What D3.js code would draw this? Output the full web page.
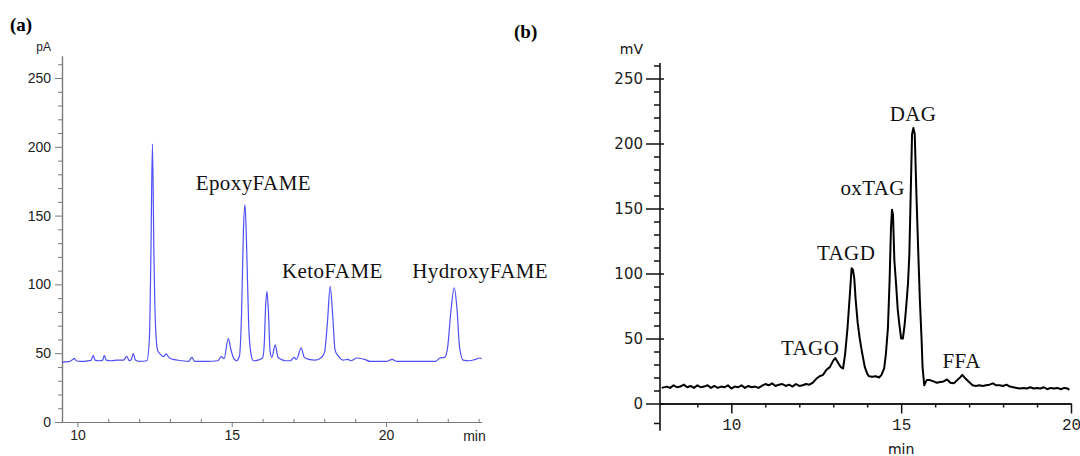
<!DOCTYPE html>
<html>
<head>
<meta charset="utf-8">
<script src="https://cdn.jsdelivr.net/npm/d3@7"></script>
<style>
  html, body { margin: 0; padding: 0; background: #fff; }
  svg { display: block; }
</style>
</head>
<body>
<svg id="chart" width="1080" height="456"></svg>
<script>
// ---------- Panel (a): GC-FID chromatogram ----------
const timeA = [9.50,9.75,9.85,9.90,9.96,10.1,10.3,10.45,10.51,10.57,10.7,10.82,10.87,10.93,11.1,11.3,11.5,11.6,11.68,11.75,11.81,11.88,12.0,12.25,12.33,12.38,12.43,12.48,12.53,12.6,12.7,12.78,12.88,12.96,13.1,13.4,13.6,13.71,13.8,14.2,14.55,14.66,14.75,14.89,14.97,15.05,15.15,15.25,15.32,15.38,15.43,15.48,15.55,15.62,15.7,15.85,16.0,16.05,16.1,16.14,16.19,16.24,16.3,16.41,16.5,16.6,16.75,16.9,17.02,17.1,17.25,17.35,17.5,17.7,17.85,18.0,18.1,18.19,18.27,18.35,18.45,18.6,18.77,18.85,19.06,19.3,19.5,20.0,20.2,20.35,21.0,21.6,21.75,21.9,22.0,22.1,22.21,22.3,22.38,22.5,22.7,22.9,23.04,23.1];
const signalA = [43.5,44,45.5,46.3,44.5,44,44.3,45,48.5,45,44.5,45,48.5,45,44.5,45,45,47.8,44.5,45.5,49.8,45,44,44.5,60,120,202,120,70,52,49,47.5,49.5,47,45.5,44.5,44,47,44,44,44.5,47.5,46,60.8,53,47,44.5,48,80,140,158,130,70,50,44.5,45,46.5,55,85,95,80,52,47,56,47,45.5,44.5,44.5,47,45.5,53.8,47,45.5,45,46,50,72,98.5,78,52,48,45,45.5,44.5,46.5,45.5,44,44,45.5,44,44,44,46.5,47,55,80,97.5,82,55,45,44.5,45.5,46.5,46];
const yTicksMajorA = [0,50,100,150,200,250];
const yTicksMinorA = [10,20,30,40,60,70,80,90,110,120,130,140,160,170,180,190,210,220,230,240,260];
const xTicksMajorA = [10,15,20];
const xTicksMinorA = [11,12,13,14,16,17,18,19,21,22,23];
const labelsA = ["EpoxyFAME","KetoFAME","HydroxyFAME"];
const labelTimeA = [15.70,18.26,23.05];
const labelValA = [168.6,104.7,104.7];

// ---------- Panel (b): HPLC-ELSD chromatogram ----------
const timeB = [7.95,8.1,8.2,8.3,8.4,8.5,8.6,8.7,8.8,8.9,9.0,9.1,9.2,9.3,9.4,9.5,9.6,9.7,9.8,9.9,10.0,10.1,10.2,10.3,10.4,10.5,10.6,10.7,10.8,10.9,11.0,11.1,11.2,11.3,11.4,11.5,11.6,11.7,11.8,11.9,12.0,12.1,12.2,12.3,12.4,12.5,12.6,12.7,12.8,12.9,13.0,13.06,13.15,13.22,13.29,13.35,13.42,13.49,13.54,13.58,13.62,13.66,13.72,13.78,13.85,13.93,14.0,14.05,14.15,14.25,14.35,14.42,14.5,14.55,14.61,14.66,14.7,14.73,14.76,14.8,14.85,14.9,14.95,15.0,15.05,15.1,15.15,15.2,15.24,15.28,15.32,15.36,15.4,15.45,15.5,15.55,15.6,15.63,15.68,15.75,15.85,15.95,16.05,16.15,16.25,16.35,16.45,16.55,16.65,16.75,16.8,16.9,17.0,17.1,17.2,17.3,17.4,17.5,17.6,17.7,17.8,17.9,18.0,18.1,18.2,18.3,18.4,18.5,18.6,18.7,18.8,18.9,19.0,19.1,19.2,19.3,19.4,19.5,19.6,19.7,19.8,19.9,19.95];
const signalB = [12,13,12,14,12.5,13,14.5,12.5,13.5,12,14,12.5,13,14,12,13.5,12,13,12.5,14,11.5,13,12.5,14,12,13.5,12.5,13,12,13.5,15,14,15.5,13.5,14.5,15,13.5,14.5,13,15,13.5,14,15,14.5,16,19,21,22,26,28,33,35,31,28,27,38,58,84,104,103,96,80,62,50,39,28,23,21,20.5,21,20,22,27,38,58,95,135,149,145,110,92,72,60,50,50,60,75,92,114,160,207,212,207,160,119,80,50,28,14,18,18,17,16,16.5,17,18.5,16,15.5,18,20.5,22,19,16.5,14,13.5,14,13.5,14,14.5,15.5,14,14,13.5,14.5,13,12.5,12,11.5,12,11.5,12.5,11.5,12,11.5,12.5,11,12,11.5,12,11,12,11.5,10.5];
const yTicksMajorB = [0,50,100,150,200,250];
const yTicksMinorB = [-15,10,20,30,40,60,70,80,90,110,120,130,140,160,170,180,190,210,220,230,240,260];
const xTicksMajorB = [10,15,20];
const xTicksMinorB = [9,11,12,13,14,16,17,18,19];
const labelsB = ["TAGO","TAGD","oxTAG","DAG","FFA"];
const labelTimeB = [12.32,13.38,14.16,15.35,16.78];
const labelValB = [37.3,110.4,160.4,217.3,27.3];

const svg = d3.select("#chart");

// ===== Panel (a) =====
const xA = d3.scaleLinear().domain([9.5, 23.1]).range([62, 481.7]);
const yA = d3.scaleLinear().domain([0, 266]).range([422, 56]);
const gA = svg.append("g");
const axisColA = "#7a7a7a";
const tickFont = "'Liberation Sans', Arial, sans-serif";

// y axis (a)
const yAxMinA = gA.append("g").attr("transform", `translate(${xA(9.5)},0)`)
  .call(d3.axisLeft(yA).tickValues(yTicksMinorA).tickSize(4).tickFormat("").tickSizeOuter(0));
const yAxMajA = gA.append("g").attr("transform", `translate(${xA(9.5)},0)`)
  .call(d3.axisLeft(yA).tickValues(yTicksMajorA).tickSize(7).tickPadding(4).tickSizeOuter(0));
[yAxMinA, yAxMajA].forEach(g => {
  g.select(".domain").attr("stroke", axisColA).attr("stroke-width", 1.2);
  g.selectAll(".tick line").attr("stroke", axisColA);
  g.selectAll(".tick text").attr("fill", "#222").style("font-family", tickFont).style("font-size", "14px");
});

// x axis (a)
const xAxMinA = gA.append("g").attr("transform", `translate(0,${yA(0)})`)
  .call(d3.axisBottom(xA).tickValues(xTicksMinorA).tickSize(-3).tickFormat("").tickSizeOuter(0));
const xAxMajA = gA.append("g").attr("transform", `translate(0,${yA(0)})`)
  .call(d3.axisBottom(xA).tickValues(xTicksMajorA).tickSize(5).tickPadding(3).tickSizeOuter(0));
[xAxMinA, xAxMajA].forEach(g => {
  g.select(".domain").attr("stroke", axisColA).attr("stroke-width", 1.2);
  g.selectAll(".tick line").attr("stroke", axisColA);
  g.selectAll(".tick text").attr("fill", "#222").style("font-family", tickFont).style("font-size", "14px");
});

gA.append("text").attr("x", xA(9.5) - 11).attr("y", yA(266) - 5).attr("text-anchor", "end")
  .style("font-family", tickFont).style("font-size", "12px").attr("fill", "#222").text("pA");
gA.append("text").attr("x", xA(23.1) + 4).attr("y", yA(0) + 19).attr("text-anchor", "end")
  .style("font-family", tickFont).style("font-size", "14px").attr("fill", "#222").text("min");

const lineA = d3.line().x((d, i) => xA(timeA[i])).y(d => yA(d)).curve(d3.curveMonotoneX);
gA.append("path").datum(signalA).attr("d", lineA)
  .attr("fill", "none").attr("stroke", "#3c3cf5").attr("stroke-width", 1.2).attr("stroke-opacity", 0.9);

gA.selectAll("text.peak").data(labelsA).join("text").attr("class", "peak")
  .attr("x", (d, i) => xA(labelTimeA[i])).attr("y", (d, i) => yA(labelValA[i]))
  .attr("text-anchor", "middle")
  .style("font-family", "'Liberation Serif', 'Times New Roman', serif").style("font-size", "21px")
  .style("letter-spacing", "0.4px")
  .attr("fill", "#111").text(d => d);

svg.append("text").attr("x", 10).attr("y", 31)
  .style("font-family", "'Liberation Serif', serif").style("font-weight", "bold").style("font-size", "19px")
  .attr("fill", "#000").text("(a)");

// ===== Panel (b) =====
const xB = d3.scaleLinear().domain([7.9, 20]).range([660, 1071]);
const yB = d3.scaleLinear().domain([0, 250]).range([403.5, 78.5]);
const gB = svg.append("g");
const bFont = "'DejaVu Sans', Verdana, sans-serif";

const yAxMinB = gB.append("g").attr("transform", `translate(${xB(7.9)},0)`)
  .call(d3.axisLeft(yB).tickValues(yTicksMinorB).tickSize(6).tickFormat("").tickSizeOuter(0));
const yAxMajB = gB.append("g").attr("transform", `translate(${xB(7.9)},0)`)
  .call(d3.axisLeft(yB).tickValues(yTicksMajorB).tickSize(14).tickPadding(3).tickSizeOuter(0));
const yAxMajBr = gB.append("g").attr("transform", `translate(${xB(7.9)},0)`)
  .call(d3.axisRight(yB).tickValues(yTicksMajorB).tickSize(4).tickFormat("").tickSizeOuter(0));
[yAxMinB, yAxMajB, yAxMajBr].forEach(g => {
  g.select(".domain").remove();
  g.selectAll(".tick line").attr("stroke", "#111").attr("stroke-width", 1.5);
  g.selectAll(".tick text").attr("fill", "#222").style("font-family", bFont).style("font-size", "15px");
});
gB.append("line").attr("x1", xB(7.9)).attr("x2", xB(7.9)).attr("y1", yB(-21)).attr("y2", yB(262))
  .attr("stroke", "#111").attr("stroke-width", 1.6);

const xAxMinB = gB.append("g").attr("transform", `translate(0,${yB(0)})`)
  .call(d3.axisBottom(xB).tickValues(xTicksMinorB).tickSize(4).tickFormat("").tickSizeOuter(0));
const xAxMajB = gB.append("g").attr("transform", `translate(0,${yB(0)})`)
  .call(d3.axisBottom(xB).tickValues(xTicksMajorB).tickSize(10).tickPadding(5).tickSizeOuter(0));
[xAxMinB, xAxMajB].forEach(g => {
  g.select(".domain").attr("stroke", "#111").attr("stroke-width", 1.6);
  g.selectAll(".tick line").attr("stroke", "#111").attr("stroke-width", 1.5);
  g.selectAll(".tick text").attr("fill", "#222")
    .style("font-family", "'Liberation Mono', 'DejaVu Sans Mono', monospace").style("font-size", "16px");
});

gB.append("text").attr("x", xB(7.9) - 17).attr("y", yB(262) - 9).attr("text-anchor", "end")
  .style("font-family", bFont).style("font-size", "14px").attr("fill", "#111").text("mV");
gB.append("text").attr("x", xB(15)).attr("y", 454).attr("text-anchor", "middle")
  .style("font-family", bFont).style("font-size", "14px").attr("fill", "#111").text("min");

const lineB = d3.line().x((d, i) => xB(timeB[i])).y(d => yB(d)).curve(d3.curveLinear);
gB.append("path").datum(signalB).attr("d", lineB)
  .attr("fill", "none").attr("stroke", "#000").attr("stroke-width", 2).attr("stroke-linejoin", "round");

gB.selectAll("text.peak").data(labelsB).join("text").attr("class", "peak")
  .attr("x", (d, i) => xB(labelTimeB[i])).attr("y", (d, i) => yB(labelValB[i]))
  .attr("text-anchor", "middle")
  .style("font-family", "'Liberation Serif', 'Times New Roman', serif").style("font-size", "21px")
  .style("letter-spacing", "0.4px")
  .attr("fill", "#111").text(d => d);

svg.append("text").attr("x", 514).attr("y", 38)
  .style("font-family", "'Liberation Serif', serif").style("font-weight", "bold").style("font-size", "19px")
  .attr("fill", "#000").text("(b)");
</script>
</body>
</html>
